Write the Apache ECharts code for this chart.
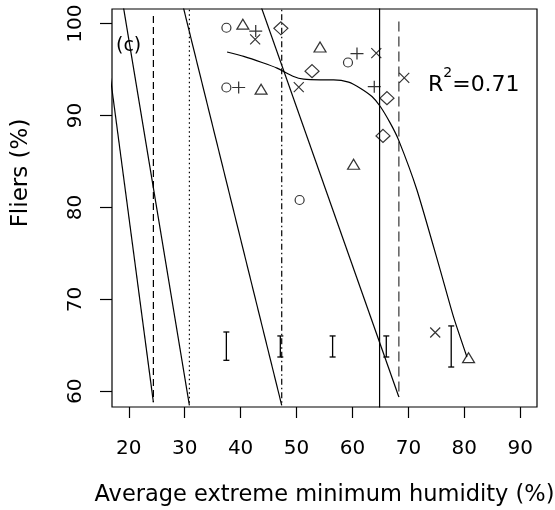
<!DOCTYPE html>
<html><head><meta charset="utf-8">
<script src="https://cdn.jsdelivr.net/npm/echarts@6/dist/echarts.min.js"></script>
<style>html,body{margin:0;padding:0;background:#fff}#c{width:555px;height:510px}</style>
</head><body><div id="c"></div>
<script>
const xTicks = [20, 30, 40, 50, 60, 70, 80, 90];
const yTicks = [60, 70, 80, 90, 100];
const xTitle = 'Average extreme minimum humidity (%)';
const yTitle = 'Fliers (%)';
const panelLabel = '(c)';

const circles = [[37.46, 99.56], [37.45, 93.06], [59.2, 95.78], [50.55, 80.82]];
const triangles = [[40.4, 99.95], [43.66, 92.88], [54.2, 97.46], [60.2, 84.71], [80.76, 63.67]];
const pluses = [[42.7, 99.2], [39.65, 93.06], [60.81, 96.75], [63.9, 93.15]];
const crosses = [[42.6, 98.3], [50.4, 93.1], [64.26, 96.8], [69.26, 94.1], [74.8, 66.4]];
const diamonds = [[47.2, 99.5], [52.77, 94.84], [66.17, 91.9], [65.46, 87.79]];

const curve = [[37.58, 96.92], [40.55, 96.44], [43.83, 95.78], [46.52, 95.17], [49.48, 94.26],
  [51.27, 93.97], [54.25, 93.9], [56.63, 93.9], [59.31, 93.65], [61.4, 92.99], [63.49, 92.08],
  [64.98, 90.99], [66.76, 89.18], [68.24, 87.36], [71.53, 81.91], [75.7, 73.19], [78.07, 68.1], [80.47, 63.74]];

const slopeA = [[15.44, 100], [24.4, 58.83]];
const slopeB = [[18.72, 103], [30.84, 58.47]];
const slopeC = [[29.26, 103], [47.35, 58.47]];
const slopeD = [[43.0, 103], [68.3, 59.38]];

const vDashed = [[24.4, 100.84], [24.4, 58.83]];
const vDotted = [[30.84, 103], [30.84, 58.47]];
const vDashDot = [[47.35, 103], [47.35, 58.47]];
const vSolid = [[64.85, 110], [64.85, 50]];
const vLongDash = [[68.3, 100.25], [68.3, 59.38]];

const errorBars = [[37.45, 63.38, 66.46], [47.1, 63.74, 66.03], [56.45, 63.74, 66.03], [66.05, 63.74, 66.03], [77.66, 62.65, 67.12]];

const FONT = 'DejaVu Sans';
const chart = echarts.init(document.getElementById('c'), null, {renderer: 'canvas'});

function lineSeries(data, dash, color) {
  return {
    type: 'line', data: data, showSymbol: false, symbol: 'none', clip: true, silent: true,
    lineStyle: {color: color || '#000', width: 1.2, type: dash || 'solid'},
    emphasis: {disabled: true}, z: 3
  };
}
function pointSeries(data, symbol, size) {
  return {
    type: 'scatter', data: data, symbol: symbol, symbolSize: size, silent: true,
    itemStyle: {color: 'rgba(0,0,0,0)', borderColor: '#000', borderWidth: 1.2},
    emphasis: {disabled: true}, z: 4
  };
}

chart.setOption({
  animation: false,
  backgroundColor: '#fff',
  grid: {left: 112, right: 18, top: 9, bottom: 103, show: true, borderColor: '#000', borderWidth: 1.2,
    backgroundColor: 'rgba(0,0,0,0)', outerBoundsMode: 'none', containLabel: false},
  xAxis: {
    type: 'value', min: 17, max: 93,
    axisLine: {show: false}, splitLine: {show: false},
    axisTick: {show: true, customValues: xTicks, length: 11, lineStyle: {color: '#000', width: 1.2}},
    axisLabel: {customValues: xTicks, fontSize: 20, fontFamily: FONT, color: '#000', margin: 32},
    name: xTitle, nameLocation: 'middle', nameGap: 77,
    nameTextStyle: {fontSize: 22.5, fontFamily: FONT, color: '#000'}
  },
  yAxis: {
    type: 'value', min: 58.3, max: 101.6,
    axisLine: {show: false}, splitLine: {show: false},
    axisTick: {show: true, customValues: yTicks, length: 12, lineStyle: {color: '#000', width: 1.2}},
    axisLabel: {customValues: yTicks, fontSize: 20, fontFamily: FONT, color: '#000', margin: 26, rotate: 90}
  },
  graphic: [
    {type: 'text', x: 21, y: 173, rotation: Math.PI / 2,
     style: {text: yTitle, fontSize: 23, fontFamily: FONT, fill: '#000', align: 'center', verticalAlign: 'middle'}},
    {type: 'text', x: 116, y: 46, z: 10,
     style: {text: panelLabel, fontSize: 19, fontFamily: FONT, fill: '#000', align: 'left', verticalAlign: 'middle'}},
    {type: 'text', x: 428, y: 66, z: 10,
     style: {text: '{a|R}{b|2}{a|=0.71}', fill: '#000',
       rich: {a: {fontSize: 22, fontFamily: FONT, lineHeight: 38, fill: '#000'},
              b: {fontSize: 14, fontFamily: FONT, lineHeight: 14, verticalAlign: 'top', fill: '#000'}}}}
  ],
  series: [
    lineSeries(slopeA), lineSeries(slopeB), lineSeries(slopeC), lineSeries(slopeD),
    lineSeries(vDashed, [7, 4]),
    lineSeries(vDotted, [1.5, 3]),
    lineSeries(vDashDot, [1.5, 3, 6, 3]),
    lineSeries(vSolid),
    lineSeries(vLongDash, [10, 5], '#333'),
    Object.assign(lineSeries(curve), {smooth: 0.2}),
    {
      type: 'custom', data: errorBars, silent: true, z: 4,
      encode: {x: 0, y: [1, 2]},
      renderItem: function (params, api) {
        const x = api.value(0);
        const lo = api.coord([x, api.value(1)]);
        const hi = api.coord([x, api.value(2)]);
        const w = 3;
        const st = {stroke: '#000', lineWidth: 1.3};
        return {type: 'group', children: [
          {type: 'line', shape: {x1: lo[0], y1: lo[1], x2: hi[0], y2: hi[1]}, style: st},
          {type: 'line', shape: {x1: lo[0] - w, y1: lo[1], x2: lo[0] + w, y2: lo[1]}, style: st},
          {type: 'line', shape: {x1: hi[0] - w, y1: hi[1], x2: hi[0] + w, y2: hi[1]}, style: st}
        ]};
      }
    },
    pointSeries(circles, 'circle', [9, 9]),
    pointSeries(triangles, 'triangle', [12, 10]),
    pointSeries(pluses, 'path://M-1,0L1,0M0,-1L0,1', [13, 12]),
    pointSeries(crosses, 'path://M-1,-1L1,1M-1,1L1,-1', [10, 10]),
    pointSeries(diamonds, 'diamond', [14, 13])
  ]
});
</script></body></html>
